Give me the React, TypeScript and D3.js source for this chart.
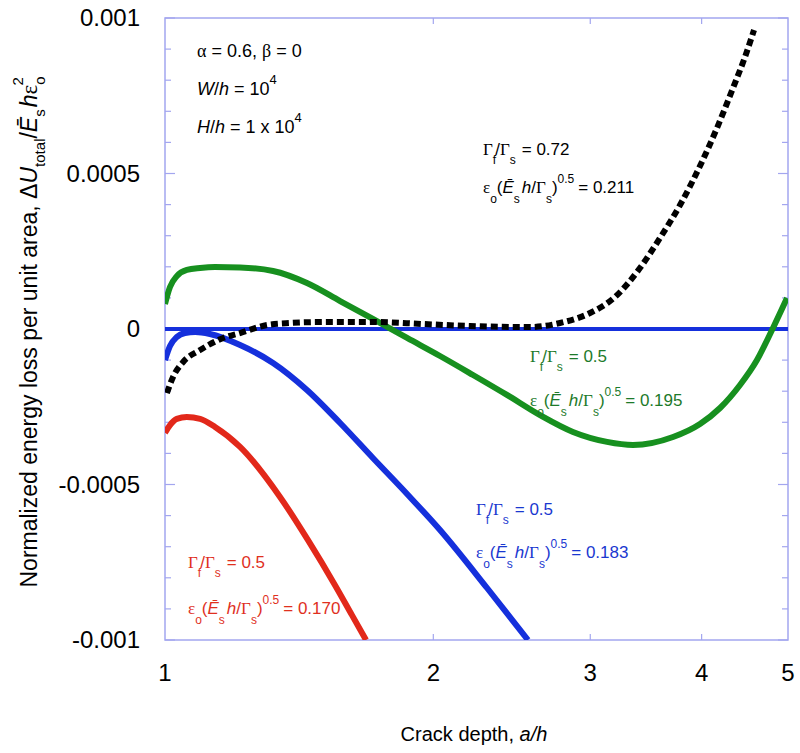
import React from "react";
import * as d3 from "d3";

// ---- data (a/h, normalized energy loss) ----
const blueX = [1, 1.013, 1.031, 1.053, 1.081, 1.123, 1.214, 1.322, 1.443, 1.572, 1.711, 1.869, 2.035, 2.298, 2.554];
const blueY = [-0.0000997, -0.0000547, -0.0000257, -0.0000129, -0.0000096, -0.0000161, -0.0000514, -0.0001093, -0.0001961, -0.0003023, -0.0004148, -0.0005305, -0.0006463, -0.0008328, -0.001];

const redX = [1, 1.013, 1.031, 1.058, 1.095, 1.138, 1.214, 1.346, 1.447, 1.551, 1.621, 1.681];
const redY = [-0.000334, -0.000309, -0.000289, -0.000283, -0.000289, -0.000315, -0.000379, -0.00054, -0.000679, -0.000823, -0.00092, -0.001];

const greenX = [1, 1.013, 1.031, 1.058, 1.095, 1.138, 1.214, 1.322, 1.443, 1.572, 1.711, 1.869, 2.035, 2.216, 2.419, 2.635, 2.869, 3.133, 3.35, 3.715, 3.983, 4.195, 4.417, 4.615, 4.798, 4.987];
const greenY = [0.0000804, 0.000135, 0.00017, 0.00019, 0.000196, 0.000199, 0.0001977, 0.0001865, 0.0001479, 0.00009, 0.0000322, -0.0000289, -0.0000868, -0.0001479, -0.000212, -0.000277, -0.000331, -0.000363, -0.000373, -0.0003473, -0.0003055, -0.000254, -0.00018, -0.0000997, -0.0000032, 0.0000997];

const blackX = [1.005, 1.021, 1.048, 1.095, 1.162, 1.214, 1.302, 1.381, 1.504, 1.712, 1.947, 2.199, 2.568, 2.774, 2.998, 3.198, 3.411, 3.592, 3.783, 3.983, 4.162, 4.338, 4.474, 4.58];
const blackY = [-0.000206, -0.000154, -0.000106, -0.0000675, -0.0000289, -0.0000129, 0.0000129, 0.0000193, 0.0000225, 0.0000225, 0.0000161, 0.0000096, 0.0000064, 0.0000193, 0.0000514, 0.0001029, 0.0001961, 0.0002926, 0.0003987, 0.0005241, 0.0006463, 0.0007749, 0.0008746, 0.0009614];

const zeroX = [1, 5];
const zeroY = [0, 0];

const xTickVals = [1, 2, 3, 4, 5];
const xTickLabels = ["1", "2", "3", "4", "5"];
const yMajorVals = [0.001, 0.0005, 0, -0.0005, -0.001];
const yMajorLabels = ["0.001", "0.0005", "0", "-0.0005", "-0.001"];

const BLUE = "#1530dc";
const GREEN = "#17901f";
const RED = "#e2281a";
const FRAME = "#a3a6ef";
const SANS = "Liberation Sans, Arial, Helvetica, sans-serif";
const SERIF = "Liberation Serif, Times New Roman, serif";

const L = 165, R = 788, T = 18, B = 640;

export default function App() {
  const x = d3.scaleLog().domain([1, 5]).range([L, R]);
  const y = d3.scaleLinear().domain([-0.001, 0.001]).range([B, T]);
  const mk = (xs: number[], ys: number[]) =>
    d3.line<number>().x((_, i) => x(xs[i])).y((_, i) => y(ys[i])).curve(d3.curveMonotoneX)(xs.map((_, i) => i)) || "";

  const minor = d3.range(-10, 11).map((k) => k * 0.0001);
  const isMajor = (v: number) => Math.abs(Math.round(v / 0.0005) * 0.0005 - v) < 1e-9;

  const annot = (x0: number, y1: number, y2: number, color: string, ratio: string, eps: string) => (
    <g fill={color} fontFamily={SANS} fontSize={17}>
      <text x={x0} y={y1}>
        <tspan fontFamily={SERIF}>Γ</tspan>
        <tspan fontSize={12} dy={9}>f</tspan>
        <tspan dy={-9} dx={-1}>/</tspan>
        <tspan fontFamily={SERIF}>Γ</tspan>
        <tspan fontSize={12} dy={9}>s</tspan>
        <tspan dy={-9} dx={6}>= {ratio}</tspan>
      </text>
      <text x={x0} y={y2}>
        <tspan fontFamily={SERIF}>ε</tspan>
        <tspan fontSize={12} dy={10}>o</tspan>
        <tspan dy={-10}>(</tspan>
        <tspan fontStyle="italic">Ē</tspan>
        <tspan fontSize={12} dy={10}>s</tspan>
        <tspan dy={-10} dx={2} fontStyle="italic">h</tspan>
        <tspan>/</tspan>
        <tspan fontFamily={SERIF}>Γ</tspan>
        <tspan fontSize={12} dy={10}>s</tspan>
        <tspan dy={-10}>)</tspan>
        <tspan fontSize={12} dy={-10}>0.5</tspan>
        <tspan dy={10} dx={4}>= {eps}</tspan>
      </text>
    </g>
  );

  return (
    <svg width={800} height={753} style={{ display: "block", position: "absolute", left: 0, top: 0 }}>
      <rect x={0} y={0} width={800} height={753} fill="#fff" />
      <defs>
        <clipPath id="plot">
          <rect x={L} y={T} width={R - L} height={B - T} />
        </clipPath>
      </defs>

      {/* frame */}
      <rect x={L} y={T} width={R - L} height={B - T} fill="none" stroke={FRAME} strokeWidth={1.5} />
      {/* y ticks both sides */}
      {minor.map((v, i) => {
        const len = isMajor(v) ? 10 : 6;
        return (
          <g key={i} stroke={FRAME} strokeWidth={1.2}>
            <line x1={L} x2={L + len} y1={y(v)} y2={y(v)} />
            <line x1={R} x2={R - len} y1={y(v)} y2={y(v)} />
          </g>
        );
      })}
      {/* x ticks */}
      {[2, 3, 4].map((v) => (
        <g key={v} stroke={FRAME} strokeWidth={1.2}>
          <line x1={x(v)} x2={x(v)} y1={B} y2={B - 6} />
          <line x1={x(v)} x2={x(v)} y1={T} y2={T + 6} />
        </g>
      ))}

      {/* tick labels */}
      {yMajorVals.map((v, i) => (
        <text key={i} x={140} y={y(v) + 8} textAnchor="end" fontFamily={SANS} fontSize={24} fill="#000">
          {yMajorLabels[i]}
        </text>
      ))}
      {xTickVals.map((v, i) => (
        <text key={i} x={x(v)} y={681} textAnchor="middle" fontFamily={SANS} fontSize={24} fill="#000">
          {xTickLabels[i]}
        </text>
      ))}

      {/* axis titles */}
      <text x={474} y={741} textAnchor="middle" fontFamily={SANS} fontSize={20} fill="#000">
        Crack depth, <tspan fontStyle="italic">a/h</tspan>
      </text>
      <text transform="translate(37,332) rotate(-90)" textAnchor="middle" fontFamily={SANS} fontSize={23} fill="#000">
        Normalized energy loss per unit area, Δ<tspan fontStyle="italic">U</tspan>
        <tspan fontSize={15} dy={8}>total</tspan>
        <tspan dy={-8}>/</tspan>
        <tspan fontStyle="italic">Ē</tspan>
        <tspan fontSize={15} dy={8}>s</tspan>
        <tspan dy={-8} dx={2} fontStyle="italic">h</tspan>
        <tspan fontFamily={SERIF}>ε</tspan>
        <tspan fontSize={15} dy={8}>o</tspan>
        <tspan fontSize={15} dy={-22} dx={-9}>2</tspan>
      </text>

      {/* curves */}
      <g clipPath="url(#plot)" fill="none">
        <path d={mk(zeroX, zeroY)} stroke={BLUE} strokeWidth={4} />
        <path d={mk(blueX, blueY)} stroke={BLUE} strokeWidth={6} />
        <path d={mk(redX, redY)} stroke={RED} strokeWidth={6} />
        <path d={mk(greenX, greenY)} stroke={GREEN} strokeWidth={6} />
        <path d={mk(blackX, blackY)} stroke="#000" strokeWidth={6} strokeDasharray="7 4" />
      </g>

      {/* annotations */}
      <g fontFamily={SANS} fontSize={18} fill="#000">
        <text x={197} y={57}>
          <tspan fontFamily={SERIF}>α</tspan> = 0.6, <tspan fontFamily={SERIF}>β</tspan> = 0
        </text>
        <text x={197} y={95}>
          <tspan fontStyle="italic">W</tspan>/<tspan fontStyle="italic">h</tspan> = 10
          <tspan fontSize={13} dy={-11}>4</tspan>
        </text>
        <text x={197} y={133}>
          <tspan fontStyle="italic">H</tspan>/<tspan fontStyle="italic">h</tspan> = 1 x 10
          <tspan fontSize={13} dy={-11}>4</tspan>
        </text>
      </g>
      {annot(483, 155, 193, "#000", "0.72", "0.211")}
      {annot(530, 362, 406, "#1d7a2a", "0.5", "0.195")}
      {annot(476, 515, 558, "#1a38d0", "0.5", "0.183")}
      {annot(188, 568, 614, "#e0301e", "0.5", "0.170")}
    </svg>
  );
}
